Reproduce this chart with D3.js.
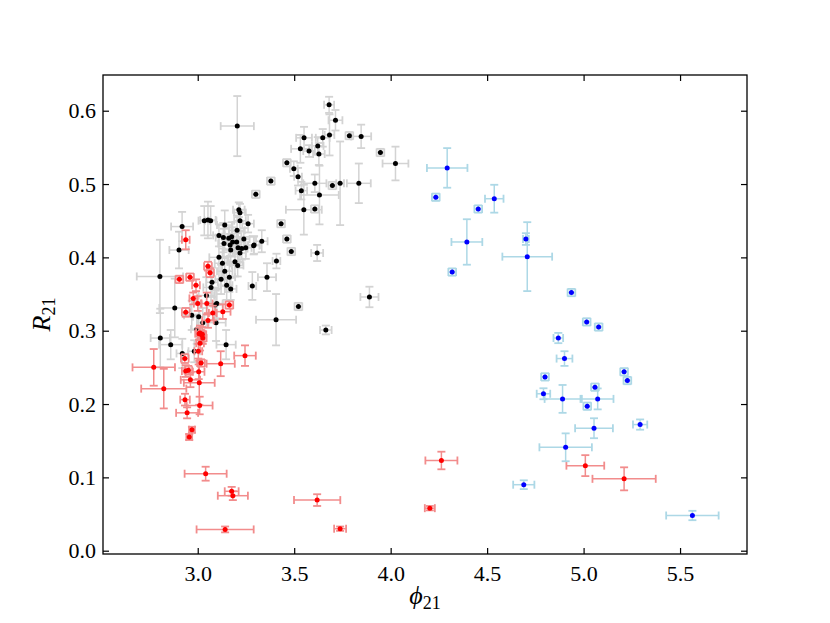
<!DOCTYPE html>
<html>
<head>
<meta charset="utf-8">
<script src="https://cdn.jsdelivr.net/npm/d3@7"></script>
<style>
  body { margin: 0; background: #fff; }
  svg text { font-family: "Liberation Serif", "DejaVu Serif", serif; fill: #000; }
</style>
</head>
<body>
<div id="chart"></div>
<script>
// [phi21, R21, phi21 error, R21 error]
var blackPoints = [
  [3.681,0.608,0.026,0.011], [3.714,0.587,0.036,0.014], [3.205,0.579,0.086,0.041],
  [3.683,0.567,0.025,0.028], [3.786,0.566,0.02,0.005], [3.847,0.565,0.052,0.016],
  [3.551,0.563,0.041,0.015], [3.648,0.563,0.036,0.012], [3.622,0.552,0.03,0.012],
  [3.532,0.548,0.048,0.019], [3.577,0.545,0.03,0.008], [3.628,0.541,0.03,0.015],
  [3.947,0.543,0.02,0.005], [4.025,0.528,0.067,0.023], [3.462,0.529,0.02,0.005],
  [3.498,0.521,0.02,0.01], [3.520,0.510,0.02,0.012], [3.379,0.504,0.02,0.005],
  [3.607,0.501,0.06,0.012], [3.698,0.498,0.02,0.005], [3.738,0.501,0.02,0.057],
  [3.835,0.501,0.062,0.027], [3.537,0.491,0.03,0.012], [3.631,0.485,0.10,0.04],
  [3.301,0.486,0.02,0.005], [3.550,0.465,0.093,0.034], [3.607,0.466,0.02,0.005],
  [3.432,0.446,0.02,0.005], [3.462,0.425,0.02,0.005], [3.332,0.422,0.03,0.015],
  [3.292,0.417,0.03,0.012], [3.485,0.408,0.02,0.005], [3.619,0.406,0.031,0.011],
  [3.408,0.395,0.02,0.01], [3.359,0.373,0.047,0.019], [3.283,0.361,0.02,0.019],
  [3.522,0.333,0.02,0.005], [3.406,0.315,0.104,0.035], [3.664,0.301,0.03,0.006],
  [3.890,0.346,0.047,0.014], [3.213,0.465,0.03,0.01], [3.219,0.461,0.03,0.012],
  [2.919,0.442,0.057,0.02], [3.034,0.450,0.03,0.02], [3.053,0.451,0.04,0.025],
  [3.067,0.450,0.03,0.02], [3.140,0.444,0.04,0.02], [3.219,0.450,0.03,0.015],
  [3.261,0.446,0.03,0.012], [3.204,0.437,0.04,0.02], [2.903,0.410,0.05,0.025],
  [3.110,0.430,0.03,0.015], [3.133,0.427,0.04,0.02], [3.176,0.428,0.05,0.02],
  [3.161,0.426,0.03,0.015], [3.202,0.421,0.04,0.015], [3.239,0.425,0.03,0.015],
  [3.290,0.416,0.03,0.012], [3.136,0.419,0.03,0.02], [3.181,0.421,0.03,0.02],
  [3.168,0.417,0.03,0.015], [3.209,0.413,0.04,0.02], [3.228,0.412,0.03,0.015],
  [3.249,0.413,0.03,0.015], [3.171,0.410,0.04,0.02], [3.219,0.406,0.03,0.02],
  [3.193,0.394,0.04,0.02], [3.207,0.389,0.03,0.015], [3.110,0.400,0.05,0.03],
  [3.140,0.381,0.04,0.02], [2.804,0.374,0.12,0.05], [3.074,0.366,0.03,0.02],
  [3.069,0.359,0.04,0.02], [3.121,0.370,0.03,0.02], [3.164,0.373,0.03,0.02],
  [3.171,0.357,0.03,0.015], [2.881,0.331,0.08,0.04], [3.090,0.335,0.04,0.02],
  [3.099,0.337,0.03,0.02], [2.969,0.321,0.04,0.02], [3.005,0.319,0.03,0.02],
  [3.095,0.311,0.05,0.025], [3.026,0.311,0.03,0.02], [2.995,0.302,0.03,0.02],
  [2.806,0.290,0.05,0.04], [2.860,0.281,0.06,0.02], [2.920,0.269,0.03,0.02],
  [2.982,0.272,0.03,0.015], [3.147,0.281,0.05,0.02], [3.128,0.392,0.04,0.02],
  [3.150,0.362,0.03,0.02], [3.045,0.348,0.04,0.025]
];

var redPoints = [
  [2.938,0.424,0.02,0.013], [3.053,0.388,0.02,0.006], [3.064,0.379,0.02,0.006],
  [2.905,0.370,0.02,0.005], [2.960,0.373,0.02,0.005], [2.991,0.362,0.02,0.008],
  [2.977,0.344,0.02,0.008], [3.000,0.337,0.02,0.01], [3.047,0.337,0.03,0.015],
  [3.164,0.335,0.02,0.005], [2.938,0.325,0.02,0.006], [3.130,0.326,0.04,0.01],
  [3.078,0.324,0.02,0.01], [3.053,0.314,0.03,0.01], [3.012,0.297,0.02,0.01],
  [3.024,0.295,0.02,0.01], [3.007,0.296,0.02,0.008], [3.021,0.294,0.02,0.006],
  [3.026,0.290,0.02,0.008], [3.012,0.283,0.02,0.01], [3.003,0.272,0.02,0.01],
  [3.245,0.266,0.056,0.014], [2.772,0.250,0.11,0.025], [2.824,0.221,0.117,0.027],
  [2.933,0.262,0.02,0.006], [2.938,0.245,0.02,0.008], [2.951,0.246,0.02,0.006],
  [3.017,0.256,0.02,0.005], [3.119,0.255,0.073,0.017], [3.005,0.244,0.03,0.01],
  [2.962,0.233,0.05,0.01], [3.008,0.229,0.08,0.03], [2.934,0.206,0.025,0.008],
  [3.010,0.198,0.067,0.012], [2.945,0.188,0.057,0.0075], [2.970,0.165,0.015,0.004],
  [2.956,0.155,0.015,0.004], [3.041,0.105,0.109,0.0095], [3.176,0.081,0.036,0.006],
  [3.182,0.075,0.078,0.006], [3.142,0.029,0.148,0.004], [3.619,0.069,0.12,0.008],
  [3.738,0.030,0.031,0.003], [4.203,0.058,0.026,0.003], [4.263,0.123,0.083,0.012],
  [5.009,0.116,0.098,0.0143], [5.210,0.098,0.164,0.0157]
];

var bluePoints = [
  [4.293,0.522,0.105,0.027], [4.234,0.482,0.02,0.005], [4.537,0.480,0.048,0.019],
  [4.454,0.466,0.02,0.005], [4.395,0.421,0.08,0.031], [4.701,0.425,0.015,0.008],
  [4.708,0.401,0.129,0.047], [4.319,0.380,0.02,0.005], [4.937,0.352,0.02,0.005],
  [5.016,0.312,0.02,0.005], [5.078,0.305,0.02,0.005], [4.869,0.290,0.025,0.007],
  [4.901,0.262,0.041,0.01], [4.800,0.237,0.02,0.005], [5.210,0.244,0.02,0.005],
  [5.227,0.232,0.02,0.005], [4.792,0.214,0.035,0.0075], [4.891,0.207,0.093,0.019],
  [5.059,0.223,0.02,0.005], [5.073,0.207,0.082,0.0143], [5.019,0.197,0.02,0.005],
  [5.054,0.167,0.098,0.0136], [5.293,0.172,0.037,0.007], [4.907,0.141,0.136,0.019],
  [4.690,0.090,0.055,0.006], [5.564,0.048,0.136,0.0064]
];

var xTicks = [3.0, 3.5, 4.0, 4.5, 5.0, 5.5];
var yTicks = [0.0, 0.1, 0.2, 0.3, 0.4, 0.5, 0.6];

var groups = [
  { points: blackPoints, dot: '#000000', err: '#d3d3d3' },
  { points: redPoints,   dot: '#ff0000', err: '#f28c8c' },
  { points: bluePoints,  dot: '#0000ff', err: '#add8e6' }
];

var W = 830, H = 623;
var pLeft = 103, pRight = 747, pTop = 75, pBottom = 554;
var cap = 4;

var svg = d3.select('#chart').append('svg')
  .attr('width', W)
  .attr('height', H);

var x = d3.scaleLinear().domain([2.509, 5.847]).range([pLeft, pRight]);
var y = d3.scaleLinear().domain([-0.0045, 0.6487]).range([pBottom, pTop]);

var plot = svg.append('g');

groups.forEach(function(g) {
  var bars = plot.append('g')
    .attr('stroke', g.err)
    .attr('fill', 'none');

  g.points.forEach(function(p) {
    var cx = x(p[0]), cy = y(p[1]);
    var x0 = x(p[0] - p[2]), x1 = x(p[0] + p[2]);
    var y0 = y(p[1] - p[3]), y1 = y(p[1] + p[3]);

    bars.append('line').attr('x1', x0).attr('x2', x1).attr('y1', cy).attr('y2', cy)
      .attr('stroke-width', 1.5);
    bars.append('line').attr('x1', cx).attr('x2', cx).attr('y1', y0).attr('y2', y1)
      .attr('stroke-width', 1.5);

    [x0, x1].forEach(function(xx) {
      bars.append('line').attr('x1', xx).attr('x2', xx)
        .attr('y1', cy - cap).attr('y2', cy + cap)
        .attr('stroke-width', 1.8);
    });
    [y0, y1].forEach(function(yy) {
      bars.append('line').attr('y1', yy).attr('y2', yy)
        .attr('x1', cx - cap).attr('x2', cx + cap)
        .attr('stroke-width', 1.8);
    });
  });

  plot.append('g').selectAll('circle')
    .data(g.points)
    .enter().append('circle')
    .attr('cx', function(d) { return x(d[0]); })
    .attr('cy', function(d) { return y(d[1]); })
    .attr('r', 2.5)
    .attr('fill', g.dot);
});

// axes, ticks pointing inwards on all four sides
var fmt = d3.format('.1f');

function styleAxis(sel) {
  sel.select('.domain').remove();
  sel.selectAll('.tick line').attr('stroke', '#000').attr('stroke-width', 1.2);
  sel.selectAll('.tick text')
    .style('font-family', '"Liberation Serif", "DejaVu Serif", serif')
    .style('font-size', '22px')
    .attr('fill', '#000');
}

svg.append('g')
  .attr('transform', 'translate(0,' + pBottom + ')')
  .call(d3.axisBottom(x).tickValues(xTicks).tickFormat(fmt).tickSizeInner(-6).tickSizeOuter(0).tickPadding(11))
  .call(styleAxis);

svg.append('g')
  .attr('transform', 'translate(0,' + pTop + ')')
  .call(d3.axisTop(x).tickValues(xTicks).tickFormat('').tickSizeInner(-6).tickSizeOuter(0))
  .call(styleAxis);

svg.append('g')
  .attr('transform', 'translate(' + pLeft + ',0)')
  .call(d3.axisLeft(y).tickValues(yTicks).tickFormat(fmt).tickSizeInner(-6).tickSizeOuter(0).tickPadding(7))
  .call(styleAxis);

svg.append('g')
  .attr('transform', 'translate(' + pRight + ',0)')
  .call(d3.axisRight(y).tickValues(yTicks).tickFormat('').tickSizeInner(-6).tickSizeOuter(0))
  .call(styleAxis);

svg.append('rect')
  .attr('x', pLeft).attr('y', pTop)
  .attr('width', pRight - pLeft).attr('height', pBottom - pTop)
  .attr('fill', 'none')
  .attr('stroke', '#000')
  .attr('stroke-width', 1.3);

// axis labels
var xl = svg.append('text')
  .attr('x', (pLeft + pRight) / 2)
  .attr('y', 604)
  .attr('text-anchor', 'middle');
xl.append('tspan').attr('font-style', 'italic').attr('font-size', 26).text('ϕ');
xl.append('tspan').attr('font-size', 18).attr('dy', 5).text('21');

var yl = svg.append('text')
  .attr('transform', 'translate(50,' + ((pTop + pBottom) / 2) + ') rotate(-90)')
  .attr('text-anchor', 'middle');
yl.append('tspan').attr('font-style', 'italic').attr('font-size', 26).text('R');
yl.append('tspan').attr('font-size', 18).attr('dy', 5).text('21');
</script>
</body>
</html>
